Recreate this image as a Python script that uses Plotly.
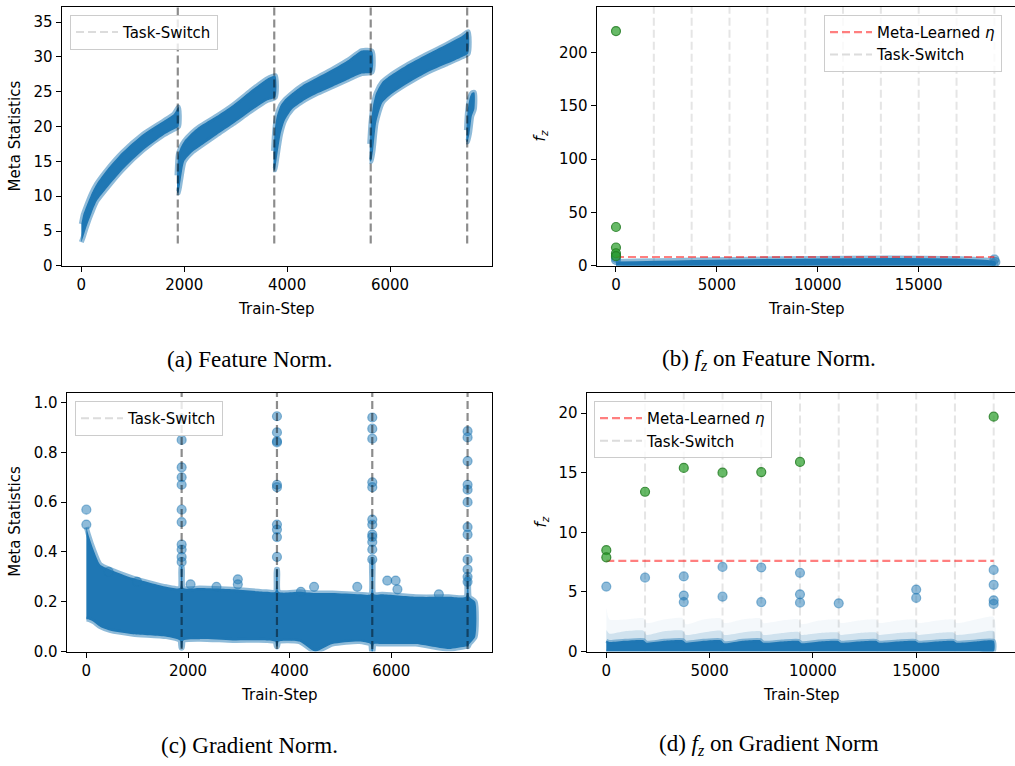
import plotly.graph_objects as go

# ---------------- values ----------------
SWITCH_A = [1875, 3750, 5625, 7500]
SWITCH_B = [1875, 3750, 5625, 7500, 9375, 11250, 13125, 15000, 16875, 18750]
VLINE_A_Y = [3.2, 37.2]      # extent of the task-switch lines in (a)
VLINE_C_Y = [0.01, 1.04]     # extent of the task-switch lines in (c)

# (a) Feature norm: lower / upper edge of the dense scatter, one block per task
FA1_X = [0, 40, 100, 200, 300, 500, 800, 1200, 1600, 1800, 1890]
FA1_LO = [3.4, 4.2, 5.6, 7.6, 9.3, 11.2, 13.8, 16.6, 18.8, 19.6, 20.0]
FA1_HI = [6.0, 7.4, 8.6, 10.4, 11.8, 13.8, 16.3, 18.9, 20.8, 21.8, 22.8]

FA2_X = [1860, 1885, 1930, 2000, 2150, 2300, 2630, 2950, 3270, 3600, 3770]
FA2_LO = [10.5, 10.5, 12.3, 15.0, 16.3, 17.1, 18.8, 20.4, 22.1, 23.7, 24.2]
FA2_HI = [13.0, 16.0, 17.0, 17.9, 19.1, 20.0, 21.5, 23.1, 25.0, 26.8, 27.3]

FA3_X = [3735, 3760, 3800, 3870, 3950, 4100, 4300, 4600, 4900, 5200, 5450, 5650]
FA3_LO = [13.8, 13.8, 15.5, 18.8, 20.8, 22.5, 23.6, 24.8, 25.8, 26.8, 27.6, 27.8]
FA3_HI = [16.5, 19.5, 21.5, 23.0, 23.8, 24.8, 25.9, 27.1, 28.3, 29.6, 30.9, 30.8]

FA4_X = [5605, 5630, 5670, 5730, 5850, 6000, 6300, 6700, 7100, 7400, 7520]
FA4_LO = [15.0, 15.0, 16.5, 20.5, 23.4, 24.5, 26.0, 27.7, 29.0, 30.0, 30.5]
FA4_HI = [17.5, 20.5, 23.0, 24.8, 26.4, 27.3, 28.7, 30.3, 31.8, 33.0, 33.6]

FA5_X = [7485, 7505, 7545, 7590, 7640]
FA5_LO = [17.8, 17.8, 19.0, 21.5, 22.5]
FA5_HI = [19.5, 22.0, 24.0, 24.8, 24.9]

# (b) f_z on feature norm
FB_BAND_X = [0, 18800]
FB_BAND_LO = [0, 0]
FB_BAND_HI = [4.0, 4.0]
FB_BLUE_X = [0, 0, 0, 18750, 18800]
FB_BLUE_Y = [10.0, 7.5, 5.5, 6.0, 3.5]
FB_GREEN_X = [0, 0, 0, 0, 0]
FB_GREEN_Y = [220.0, 36.4, 17.2, 11.8, 9.0]
FB_ETA = 8.3

# (c) Gradient norm: lower / upper edge of the dense scatter
FC_X = [0, 40, 140, 270, 460, 920, 1575, 1840, 1862, 1888, 1910, 2230, 2880, 3540,
        3715, 3738, 3762, 3785, 4190, 4500, 4840, 5370, 5590, 5613, 5637, 5660,
        5820, 6480, 7130, 7465, 7488, 7512, 7535, 7650]
FC_HI = [0.50, 0.47, 0.41, 0.35, 0.33, 0.295, 0.26, 0.255, 0.34, 0.34, 0.255, 0.255,
         0.25, 0.24, 0.24, 0.33, 0.33, 0.24, 0.24, 0.235, 0.235, 0.23, 0.23, 0.37,
         0.37, 0.23, 0.23, 0.22, 0.22, 0.22, 0.30, 0.30, 0.22, 0.20]
FC_LO = [0.13, 0.13, 0.12, 0.10, 0.085, 0.07, 0.06, 0.045, 0.015, 0.015, 0.045, 0.05,
         0.045, 0.045, 0.04, 0.02, 0.02, 0.04, 0.04, 0.0, 0.03, 0.04, 0.03, 0.0,
         0.0, 0.03, 0.03, 0.03, 0.01, 0.02, 0.02, 0.02, 0.03, 0.06]
FC_PT_X = ([1875] * 11 + [3750] * 10 + [5625] * 12 + [7500] * 12 +
           [0, 0, 2560, 2980, 2980, 2050, 4480, 4220, 5330, 5920, 6085, 6120, 6935, 1000, 440])
FC_PT_Y = ([0.935, 0.85, 0.74, 0.70, 0.67, 0.57, 0.52, 0.43, 0.41, 0.38, 0.36] +
           [0.945, 0.88, 0.845, 0.84, 0.67, 0.66, 0.51, 0.49, 0.46, 0.38] +
           [0.94, 0.895, 0.855, 0.68, 0.66, 0.53, 0.51, 0.47, 0.46, 0.44, 0.41, 0.37] +
           [0.885, 0.86, 0.765, 0.67, 0.65, 0.60, 0.50, 0.47, 0.37, 0.33, 0.30, 0.28] +
           [0.57, 0.51, 0.26, 0.29, 0.27, 0.27, 0.26, 0.24, 0.26, 0.285, 0.285, 0.25, 0.23, 0.28, 0.32])

# (d) f_z on gradient norm: density layers of the low cloud
FD_X = [0, 150, 900, 1800, 1950, 2800, 3700, 3850, 4700, 5550, 5700, 6600, 7450, 7600,
        8500, 9300, 9450, 10300, 11200, 11350, 12200, 13050, 13200, 14100, 14950,
        15100, 16000, 16800, 16950, 17900, 18750]
FD_SOLID = [0.9, 0.8, 0.9, 0.95, 0.75, 0.9, 0.95, 0.75, 0.9, 0.95, 0.7, 0.9, 0.95, 0.75,
            0.85, 0.9, 0.7, 0.85, 0.9, 0.75, 0.85, 0.9, 0.75, 0.85, 0.9, 0.75, 0.85,
            0.9, 0.75, 0.85, 0.9]
FD_MID = [1.8, 1.5, 1.7, 1.75, 1.4, 1.7, 1.75, 1.4, 1.6, 1.75, 1.4, 1.6, 1.7, 1.4, 1.55,
          1.65, 1.4, 1.55, 1.6, 1.4, 1.55, 1.6, 1.4, 1.55, 1.6, 1.4, 1.55, 1.6, 1.4, 1.55, 1.7]
FD_FAINT = [3.7, 2.7, 2.7, 2.8, 2.4, 2.7, 2.8, 2.3, 2.7, 2.8, 2.4, 2.7, 2.8, 2.4, 2.6,
            2.7, 2.3, 2.6, 2.7, 2.4, 2.6, 2.7, 2.4, 2.6, 2.7, 2.4, 2.6, 2.7, 2.4, 2.7, 2.9]
FD_BLUE_X = [0, 1875, 3750, 3750, 3750, 5625, 5625, 7500, 7500, 9375, 9375, 9375,
             11250, 15000, 15000, 18750, 18750, 18750, 18750]
FD_BLUE_Y = [5.45, 6.2, 6.3, 4.7, 4.15, 7.1, 4.6, 7.05, 4.15, 6.6, 4.8, 4.1,
             4.05, 5.2, 4.5, 6.85, 5.6, 4.3, 4.0]
FD_GREEN_X = [0, 0, 1875, 3750, 5625, 7500, 9375, 18750]
FD_GREEN_Y = [8.5, 7.9, 13.4, 15.4, 15.0, 15.05, 15.9, 19.7]
FD_ETA = 7.6
ETA_X = [0, 18750]

# ---------------- styling ----------------
W, H = 1015, 766
BLUE = "#1f77b4"
BLUE_EDGE = "rgba(31,119,180,0.5)"
PT_FILL = "rgba(31,119,180,0.5)"
GREEN_FILL = "rgba(44,160,44,0.72)"
GREEN_EDGE = "rgba(30,120,30,0.8)"
DARK_SW = "rgba(0,0,0,0.45)"
LIGHT_SW = "rgba(150,150,150,0.25)"
LEG_SW = "#dcdcdc"
RED = "rgba(255,0,0,0.5)"
FONT = "DejaVu Sans"

fig = go.Figure()


def band(x, lo, hi, xa, ya, color=BLUE, edge=BLUE_EDGE, ew=5):
    fig.add_trace(go.Scatter(
        x=list(x) + list(x)[::-1], y=list(lo) + list(hi)[::-1],
        fill="toself", fillcolor=color, mode="lines",
        line=dict(color=edge, width=ew, shape="spline", smoothing=0.6), xaxis=xa, yaxis=ya,
        hoverinfo="skip", showlegend=False))


def vlines(xs, y0, y1, xa, ya, color, width):
    vx, vy = [], []
    for s in xs:
        vx += [s, s, None]
        vy += [y0, y1, None]
    fig.add_trace(go.Scatter(x=vx, y=vy, mode="lines", xaxis=xa, yaxis=ya,
                             line=dict(color=color, width=width, dash="8px,4px"),
                             hoverinfo="skip", showlegend=False))


def pts(x, y, xa, ya, fill, edge):
    fig.add_trace(go.Scatter(x=x, y=y, mode="markers", xaxis=xa, yaxis=ya,
                             marker=dict(size=9, color=fill, line=dict(color=edge, width=1.2)),
                             hoverinfo="skip", showlegend=False))


def legend_line(name, color, legend, xa, ya):
    fig.add_trace(go.Scatter(x=[None], y=[None], mode="lines", name=name, legend=legend,
                             xaxis=xa, yaxis=ya,
                             line=dict(color=color, width=2, dash="8px,4px")))


# (a)
for sx, slo, shi in [(FA1_X, FA1_LO, FA1_HI), (FA2_X, FA2_LO, FA2_HI), (FA3_X, FA3_LO, FA3_HI),
                     (FA4_X, FA4_LO, FA4_HI), (FA5_X, FA5_LO, FA5_HI)]:
    band(sx, slo, shi, "x", "y")
vlines(SWITCH_A, VLINE_A_Y[0], VLINE_A_Y[1], "x", "y", DARK_SW, 2.2)
legend_line("Task-Switch", LEG_SW, "legend", "x", "y")

# (b)
vlines(SWITCH_B, 0, 243, "x2", "y2", LIGHT_SW, 2)
band(FB_BAND_X, FB_BAND_LO, FB_BAND_HI, "x2", "y2")
pts(FB_BLUE_X, FB_BLUE_Y, "x2", "y2", PT_FILL, BLUE_EDGE)
fig.add_trace(go.Scatter(x=ETA_X, y=[FB_ETA, FB_ETA], mode="lines", xaxis="x2", yaxis="y2",
                         line=dict(color=RED, width=2.2, dash="8px,4px"),
                         name="Meta-Learned <i>η</i>", legend="legend2"))
pts(FB_GREEN_X, FB_GREEN_Y, "x2", "y2", GREEN_FILL, GREEN_EDGE)
legend_line("Task-Switch", LEG_SW, "legend2", "x2", "y2")

# (c)
band(FC_X, FC_LO, FC_HI, "x3", "y3")
pts(FC_PT_X, FC_PT_Y, "x3", "y3", PT_FILL, BLUE_EDGE)
vlines(SWITCH_A, VLINE_C_Y[0], VLINE_C_Y[1], "x3", "y3", DARK_SW, 2.2)
legend_line("Task-Switch", LEG_SW, "legend3", "x3", "y3")

# (d)
vlines(SWITCH_B, 0, 21.7, "x4", "y4", LIGHT_SW, 2)
zeros = [0] * len(FD_X)
band(FD_X, zeros, FD_FAINT, "x4", "y4", color="rgba(31,119,180,0.05)", edge="rgba(0,0,0,0)", ew=0)
band(FD_X, zeros, FD_MID, "x4", "y4", color="rgba(31,119,180,0.17)", edge="rgba(0,0,0,0)", ew=0)
band(FD_X, zeros, FD_SOLID, "x4", "y4", color=BLUE, edge="rgba(31,119,180,0.45)", ew=4)
pts(FD_BLUE_X, FD_BLUE_Y, "x4", "y4", PT_FILL, BLUE_EDGE)
fig.add_trace(go.Scatter(x=ETA_X, y=[FD_ETA, FD_ETA], mode="lines", xaxis="x4", yaxis="y4",
                         line=dict(color=RED, width=2.2, dash="8px,4px"),
                         name="Meta-Learned <i>η</i>", legend="legend4"))
pts(FD_GREEN_X, FD_GREEN_Y, "x4", "y4", GREEN_FILL, GREEN_EDGE)
legend_line("Task-Switch", LEG_SW, "legend4", "x4", "y4")


# ---------------- axes ----------------
def px_x(p):
    return p / W


def px_y(p):
    return 1 - p / H


tickfont = dict(family=FONT, size=15, color="black")


def axis(domain, rng, tickvals, anchor, fmt="d", mirror=True):
    return dict(domain=domain, range=rng, tickvals=tickvals, anchor=anchor,
                tickformat=fmt, showline=True, linecolor="black", linewidth=1.2,
                mirror=mirror, ticks="outside", ticklen=5, tickwidth=1.2,
                tickcolor="black", showgrid=False, zeroline=False,
                tickfont=tickfont, fixedrange=True)


top_row = [px_y(269), px_y(6.67)]
bot_row = [px_y(659.33), px_y(397.33)]

fig.update_layout(
    width=W, height=H, margin=dict(l=0, r=0, t=0, b=0),
    paper_bgcolor="white", plot_bgcolor="white",
    xaxis=axis([px_x(61.67), px_x(491.67)], [-382, 7976], [0, 2000, 4000, 6000], "y"),
    yaxis=axis(top_row, [0, 37.22], [0, 5, 10, 15, 20, 25, 30, 35], "x"),
    xaxis2=axis([px_x(596.7), 1.0], [-956, 19772], [0, 5000, 10000, 15000], "y2"),
    yaxis2=axis(top_row, [0, 242.9], [0, 50, 100, 150, 200], "x2", mirror=False),
    xaxis3=axis([px_x(66.67), px_x(491.67)], [-387, 7974], [0, 2000, 4000, 6000], "y3"),
    yaxis3=axis(bot_row, [0, 1.0397], [0, 0.2, 0.4, 0.6, 0.8, 1.0], "x3", fmt=".1f"),
    xaxis4=axis([px_x(586.7), 1.0], [-949, 19782], [0, 5000, 10000, 15000], "y4"),
    yaxis4=axis(bot_row, [0, 21.71], [0, 5, 10, 15, 20], "x4", mirror=False),
)

legend_style = dict(font=dict(family=FONT, size=15, color="black"), bgcolor="rgba(255,255,255,0.8)",
                    bordercolor="#cccccc", borderwidth=1, xanchor="left", yanchor="top",
                    traceorder="normal", itemwidth=42)
fig.update_layout(
    legend=dict(x=px_x(70), y=px_y(15), **legend_style),
    legend2=dict(x=px_x(824), y=px_y(15), **legend_style),
    legend3=dict(x=px_x(75), y=px_y(405.7), **legend_style),
    legend4=dict(x=px_x(594), y=px_y(405.7), **legend_style),
)

ann = []


def text(x, y, s, size=15, family=FONT, angle=0):
    ann.append(dict(x=px_x(x), y=px_y(y), xref="paper", yref="paper", text=s, showarrow=False,
                    xanchor="center", yanchor="middle", textangle=angle,
                    font=dict(family=family, size=size, color="black")))


text(276.7, 313, "Train-Step")
text(806, 313, "Train-Step")
text(279.3, 703, "Train-Step")
text(801, 703, "Train-Step")
text(15, 138, "Meta Statistics", angle=-90)
text(15, 528, "Meta Statistics", angle=-90)
text(540, 138, "<i>f<sub>z</sub></i>", angle=-90)
text(541.7, 528, "<i>f<sub>z</sub></i>", angle=-90)

SERIF = "Liberation Serif"
text(249, 364, "(a) Feature Norm.", size=23, family=SERIF)
text(769, 364, "(b) <i>f<sub>z</sub></i> on Feature Norm.", size=23, family=SERIF)
text(249, 754, "(c) Gradient Norm.", size=23, family=SERIF)
text(769, 754, "(d) <i>f<sub>z</sub></i> on Gradient Norm", size=23, family=SERIF)
fig.update_layout(annotations=ann)

fig.write_html("out.html")
